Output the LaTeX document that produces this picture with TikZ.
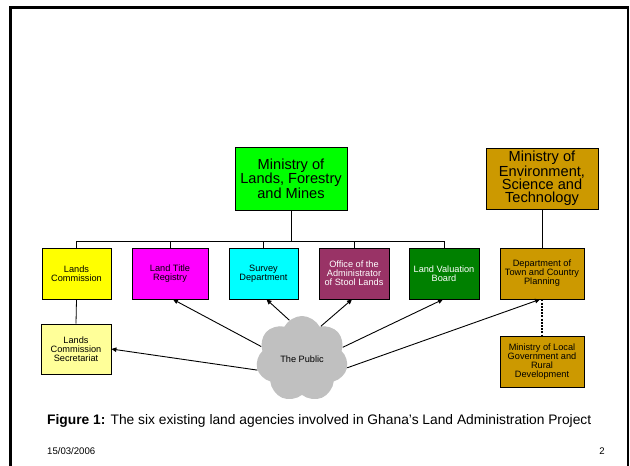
\documentclass[tikz,border=0pt]{standalone}
\usepackage{fontspec}
\setmainfont{Liberation Sans}
\usetikzlibrary{shapes.symbols,arrows.meta}
\definecolor{gold}{RGB}{204,153,0}
\definecolor{plum}{RGB}{153,51,102}
\definecolor{dgreen}{RGB}{0,128,0}
\definecolor{lyellow}{RGB}{255,255,153}
\definecolor{brightgreen}{RGB}{0,255,0}
\definecolor{pyellow}{RGB}{255,255,0}
\definecolor{pmagenta}{RGB}{255,0,255}
\definecolor{pcyan}{RGB}{0,255,255}
\definecolor{cloudgray}{RGB}{192,192,192}
\tikzset{
  box/.style={draw=black, line width=0.8pt, rectangle, align=center, inner sep=1pt,
    font=\fontsize{9.2}{9}\selectfont},
  bigbox/.style={box, font=\fontsize{14.6}{13.4}\selectfont},
  tree/.style={draw=black, line width=0.8pt},
  arr/.style={draw=black, line width=0.9pt, -{Triangle[length=5pt,width=4.5pt]}},
}
\begin{document}
\begin{tikzpicture}[x=1pt,y=-1pt]
\useasboundingbox (0,0) rectangle (630,466);
\clip (0,0) rectangle (630,466);
\fill[white] (0,0) rectangle (630,466);
% frame
\draw[line width=2.6pt, black] (10.3,480) -- (10.3,7.5) -- (627.8,7.5) -- (627.8,480);

% top ministries
\node[bigbox, fill=brightgreen, minimum width=112pt, minimum height=63pt] (mlfm) at (291,178.5)
  {Ministry of\\Lands, Forestry\\and Mines};
\node[bigbox, fill=gold, minimum width=112pt, minimum height=61pt] (mest) at (542,178.5)
  {Ministry of\\Environment,\\Science and\\Technology};

% lower row
\node[box, fill=pyellow, minimum width=69pt, minimum height=51pt] (lc) at (76.5,273.5) {Lands\\Commission};
\node[box, fill=pmagenta, minimum width=76pt, minimum height=51pt] (ltr) at (170,273.5) {Land Title\\Registry};
\node[box, fill=pcyan, minimum width=69pt, minimum height=51pt] (sd) at (263.5,273.5) {Survey\\Department};
\node[box, fill=plum, text=white, minimum width=70pt, minimum height=51pt] (oasl) at (354,273.5) {Office of the\\Administrator\\of Stool Lands};
\node[box, fill=dgreen, text=white, minimum width=70pt, minimum height=51pt] (lvb) at (444,273.5) {Land Valuation\\Board};
\node[box, fill=gold, minimum width=84pt, minimum height=51pt] (dtcp) at (542,273.5) {Department of\\Town and Country\\Planning};

\node[box, fill=lyellow, minimum width=70pt, minimum height=50pt] (lcs) at (76,349) {Lands\\Commission\\Secretariat};
\node[box, fill=gold, minimum width=84pt, minimum height=51pt] (mlg) at (542,361.5) {Ministry of Local\\Government and\\Rural\\Development};

% tree
\coordinate (bar) at (291,241);
\draw[tree] (mlfm.south) -- (bar);
\draw[tree] (lc.north) |- (lvb.north |- bar) -- (lvb.north);
\draw[tree] (ltr.north) -- (ltr.north |- bar);
\draw[tree] (sd.north) -- (sd.north |- bar);
\draw[tree] (oasl.north) -- (oasl.north |- bar);
\draw[tree] (mest.south) -- (dtcp.north);
\draw[tree] (lc.south) -- (lcs.north);
\draw[black, line width=2.8pt, dash pattern=on 2pt off 1.2pt] (dtcp.south) -- (mlg.north);

% cloud
\node[cloud, cloud puffs=7, cloud puff arc=125, aspect=1.05, fill=cloudgray, draw=none,
  minimum width=92pt, minimum height=86pt, inner sep=0pt, font=\fontsize{9.2}{9}\selectfont] (pub) at (302,359) {The Public};

\draw[arr] (pub.163) -- ([xshift=3pt]ltr.south);
\draw[arr] (pub.108) -- ([xshift=3pt]sd.south);
\draw[arr] (pub.60) -- ([xshift=-2pt]oasl.south);
\draw[arr] (pub.16) -- ([xshift=-1pt]lvb.south);
\draw[arr] (pub.-11) -- ([xshift=-2pt]dtcp.south);
\draw[arr] (pub.194) -- (lcs.east);

% caption and footer
\node[anchor=west, inner sep=0pt, font=\fontsize{13.8}{14}\selectfont] (cap) at (47,421)
  {\textbf{Figure 1:} The six existing land agencies involved in Ghana’s Land Administration Project};
\node[anchor=west, inner sep=0pt, font=\fontsize{9.6}{11}\selectfont] (date) at (47,451) {15/03/2006};
\node[anchor=center, inner sep=0pt, font=\fontsize{9.6}{11}\selectfont] (pg) at (602,451) {2};
\end{tikzpicture}
\end{document}
